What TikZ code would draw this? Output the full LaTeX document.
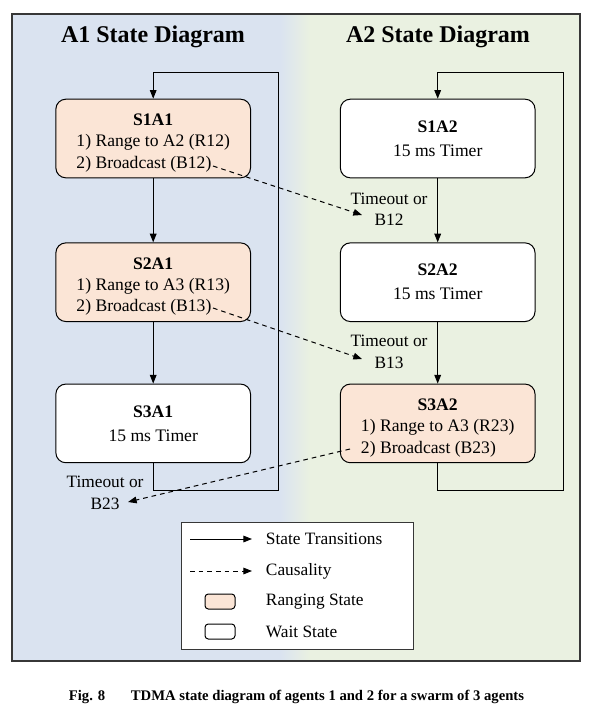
\documentclass[tikz,border=0pt]{standalone}
\usepackage{fontspec}
\setmainfont{Liberation Serif}
\usetikzlibrary{arrows.meta}

\definecolor{bgblue}{RGB}{218,227,240}
\definecolor{bggreen}{RGB}{234,241,225}
\definecolor{rangefill}{RGB}{251,229,214}
\definecolor{framegray}{RGB}{55,55,55}

\tikzset{every picture/.style={line width=0.75pt},
  statebox/.style={draw, rounded corners=7.5pt, minimum width=146pt, minimum height=59pt, align=center, font=\fontsize{13.2}{16}\selectfont, fill=white},
  rangebox/.style={statebox, fill=rangefill},
  trans/.style={-{Triangle[length=6.5pt,width=5pt]}},
  cause/.style={dash pattern=on 3.5pt off 3pt, -{Triangle[length=6.5pt,width=5pt]}},
  lbl/.style={font=\fontsize{13}{16}\selectfont, align=center},
}

\begin{document}
\begin{tikzpicture}[x=0.75pt,y=0.75pt,yscale=-1]
\useasboundingbox (0,0) rectangle (591,718);

%Shape: Panels
\fill[bgblue] (12,14) rectangle (280,661);
\fill[bggreen] (310,14) rectangle (580,661);
\shade[left color=bgblue,right color=bggreen] (280,14) rectangle (310,661);
\draw[line width=1.1pt, framegray] (12,14) rectangle (580,661);

% Titles
\node[font=\fontsize{18}{22}\selectfont\bfseries] (title1) at (153,37) {A1 State Diagram};
\node[font=\fontsize{18}{22}\selectfont\bfseries] (title2) at (438,37) {A2 State Diagram};

%States of A1
\node[rangebox] (s1a1) at (153.2,138.5) {\raisebox{-3pt}[\height][\depth]{\begin{tabular}{@{}l@{}}\multicolumn{1}{@{}c@{}}{\textbf{S1A1}}\\1) Range to A2 (R12)\\2) Broadcast (B12)\end{tabular}}};
\node[rangebox] (s2a1) at (153.2,282.2) {\raisebox{-3pt}[\height][\depth]{\begin{tabular}{@{}l@{}}\multicolumn{1}{@{}c@{}}{\textbf{S2A1}}\\1) Range to A3 (R13)\\2) Broadcast (B13)\end{tabular}}};
\node[statebox] (s3a1) at (153.2,423.4) {\textbf{S3A1}\\[2pt]15 ms Timer};

%States of A2
\node[statebox] (s1a2) at (437.7,138.5) {\textbf{S1A2}\\[2pt]15 ms Timer};
\node[statebox] (s2a2) at (437.7,282.2) {\textbf{S2A2}\\[2pt]15 ms Timer};
\node[rangebox] (s3a2) at (437.7,423.4) {\raisebox{-3pt}[\height][\depth]{\begin{tabular}{@{}l@{}}\multicolumn{1}{@{}c@{}}{\textbf{S3A2}}\\1) Range to A3 (R23)\\2) Broadcast (B23)\end{tabular}}};

% Text Node
\node[lbl] (l12) at (389,209) {Timeout or\\B12};
\node[lbl] (l13) at (389,352) {Timeout or\\B13};
\node[lbl] (l23) at (105,493) {Timeout or\\B23};

%Transitions
\coordinate (lbot) at (278,490);
\coordinate (ltop) at (278,72.7);
\coordinate (rbot) at (563.5,490);
\coordinate (rtop) at (563.5,72.7);
\draw[trans] (s1a1.south) -- (s2a1.north);
\draw[trans] (s2a1.south) -- (s3a1.north);
\draw[trans] (s3a1.south) |- (lbot) -- (ltop) -| (s1a1.north);
\draw[trans] (s1a2.south) -- (s2a2.north);
\draw[trans] (s2a2.south) -- (s3a2.north);
\draw[trans] (s3a2.south) |- (rbot) -- (rtop) -| (s1a2.north);

%Causality
\coordinate (b12) at (213,166);
\coordinate (b13) at (213,308);
\coordinate (b23) at (350,449);
\coordinate (e12) at (362,215);
\coordinate (e13) at (362,359);
\coordinate (e23) at (128,502);
\draw[cause] (b12) -- (e12);
\draw[cause] (b13) -- (e13);
\draw[cause] (b23) -- (e23);

%Legend
\draw[framegray, fill=white] (181.5,522.7) rectangle (413,649);
\coordinate (k1a) at (190,539);
\coordinate (k1b) at (252,539);
\coordinate (k2a) at (190,571);
\coordinate (k2b) at (252,571);
\draw[trans] (k1a) -- (k1b);
\draw[cause] (k2a) -- (k2b);
\draw[fill=rangefill, rounded corners=2.5pt] (205,594) rectangle (235,609);
\draw[fill=white, rounded corners=2.5pt] (205,624) rectangle (235,639);
\node[lbl, anchor=west] (k1) at (261,539) {State Transitions};
\node[lbl, anchor=west] (k2) at (261,571) {Causality};
\node[lbl, anchor=west] (k3) at (261,602) {Ranging State};
\node[lbl, anchor=west] (k4) at (261,632) {Wait State};

% Caption
\node[font=\fontsize{11}{13}\selectfont\bfseries, anchor=west] (fig) at (64,697) {Fig. 8};
\node[font=\fontsize{11}{13}\selectfont\bfseries, anchor=west] (cap) at (126,697) {TDMA state diagram of agents 1 and 2 for a swarm of 3 agents};

\end{tikzpicture}
\end{document}
